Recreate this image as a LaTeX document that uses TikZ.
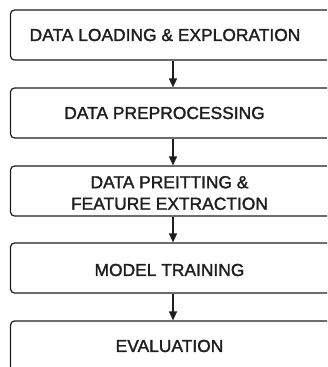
\documentclass[tikz,border=0pt]{standalone}
\usepackage{fontspec}
\setmainfont{Liberation Sans}
\newfontfamily\boxfont[FakeBold=1.6]{Liberation Sans}
\usetikzlibrary{arrows.meta}
\definecolor{ink}{HTML}{1E1E1E}
\begin{document}
\begin{tikzpicture}[x=1pt,y=1pt,
  stepbox/.style={draw=ink, line width=1.2pt, rounded corners=4pt,
    minimum width=334.5pt, minimum height=50pt, inner sep=0pt},
  lbl/.style={font=\boxfont\fontsize{17.4}{21.5}\selectfont, text=ink, align=center, inner sep=0pt},
  flow/.style={draw=ink, line width=1.4pt, -{Triangle[length=9pt,width=8pt]}}]
  \useasboundingbox (0,0) rectangle (327,-367);
  \clip (0,0) rectangle (327,-367);
  \coordinate (ax) at (173,0);
  \node[stepbox, label={[lbl, xshift=-12.75pt]center:DATA LOADING \& EXPLORATION}] (b1) at (177.75,-35) {};
  \node[stepbox, label={[lbl, xshift=-13.25pt]center:DATA PREPROCESSING}] (b2) at (177.75,-113) {};
  \node[stepbox, label={[lbl, xshift=-8.25pt, yshift=-2pt]center:DATA PREITTING \&\\FEATURE EXTRACTION}] (b3) at (177.75,-191) {};
  \node[stepbox, label={[lbl, xshift=-8.25pt, yshift=-2pt]center:MODEL TRAINING}] (b4) at (177.75,-268) {};
  \node[stepbox, label={[lbl, xshift=-8.25pt]center:EVALUATION}] (b5) at (177.75,-346) {};
  \draw[flow] (b1.south -| ax) -- (b2.north -| ax);
  \draw[flow] (b2.south -| ax) -- (b3.north -| ax);
  \draw[flow] (b3.south -| ax) -- (b4.north -| ax);
  \draw[flow] (b4.south -| ax) -- (b5.north -| ax);
\end{tikzpicture}
\end{document}
